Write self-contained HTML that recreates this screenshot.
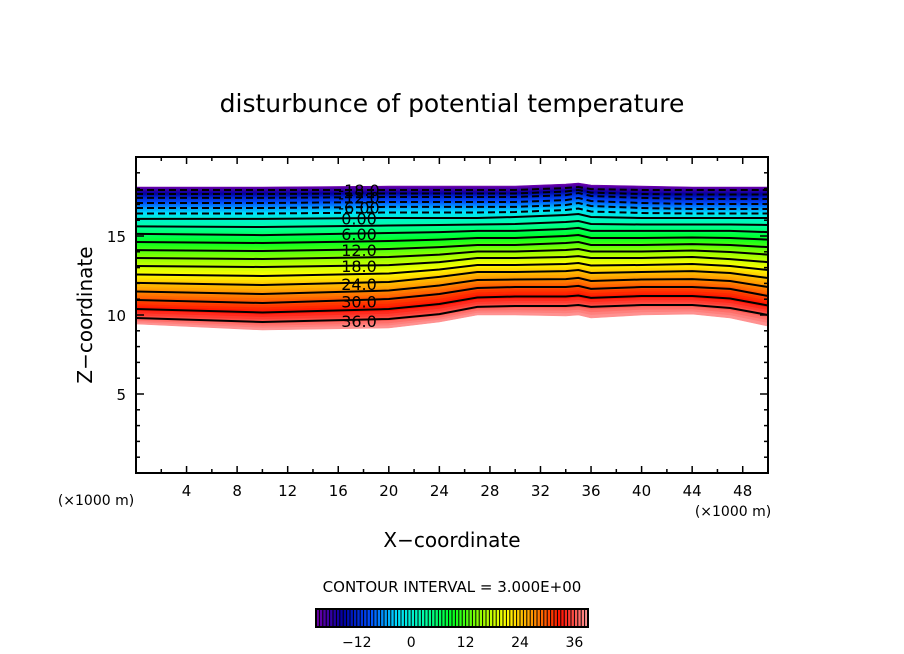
<!DOCTYPE html>
<html><head><meta charset="utf-8">
<style>
html,body{margin:0;padding:0;background:#fff;}
svg{display:block;font-family:"DejaVu Sans","Liberation Sans",sans-serif;}
</style></head>
<body>
<svg id="chart" width="904" height="654" viewBox="0 0 904 654">
  <text x="452" y="112" font-size="25" text-anchor="middle">disturbunce of potential temperature</text>
  <g id="field"></g>
  <g id="lines"></g>
  <g id="clabels"></g>
  <g id="axes"></g>
  <text x="452" y="547" font-size="20" text-anchor="middle">X−coordinate</text>
  <text transform="translate(92,315) rotate(-90)" font-size="20" text-anchor="middle">Z−coordinate</text>
  <text x="96" y="505" font-size="14" text-anchor="middle">(×1000 m)</text>
  <text x="733" y="516" font-size="14" text-anchor="middle">(×1000 m)</text>
  <text x="452" y="592" font-size="15" text-anchor="middle">CONTOUR INTERVAL = 3.000E+00</text>
  <g id="cbar"></g>
</svg>
<script>
// ---- data ----
const xNodes = [0, 10, 20, 24, 27, 30, 34, 35, 36, 40, 44, 47, 50];
const levelKeys = [-21, -18, -12, -6, 0, 6, 12, 18, 24, 30, 36, 39];
const zMinus21 = [18.10,18.10,18.16,18.16,18.16,18.16,18.29,18.35,18.23,18.16,18.10,18.10,18.10];
const zMinus18 = [17.91,17.91,17.91,17.91,17.91,17.91,18.04,18.10,17.97,17.91,17.91,17.91,17.91];
const zMinus12 = [17.41,17.41,17.47,17.47,17.47,17.47,17.59,17.72,17.53,17.41,17.34,17.34,17.34];
const zMinus6  = [16.77,16.77,16.84,16.84,16.84,16.84,16.96,17.09,16.90,16.77,16.71,16.71,16.71];
const zZero    = [16.08,16.08,16.14,16.14,16.14,16.20,16.33,16.39,16.20,16.14,16.14,16.14,16.14];
const zPlus6   = [15.13,15.06,15.19,15.25,15.32,15.32,15.44,15.51,15.32,15.32,15.32,15.32,15.25];
const zPlus12  = [14.11,14.05,14.18,14.30,14.43,14.43,14.56,14.62,14.43,14.43,14.49,14.43,14.30];
const zPlus18  = [13.10,13.04,13.16,13.35,13.61,13.61,13.67,13.73,13.61,13.61,13.67,13.54,13.35];
const zPlus24  = [12.03,11.90,12.09,12.41,12.72,12.72,12.78,12.85,12.66,12.72,12.78,12.66,12.34];
const zPlus30  = [10.95,10.76,11.01,11.33,11.71,11.77,11.77,11.84,11.65,11.77,11.77,11.65,11.20];
const zPlus36  = [9.81,9.56,9.75,10.06,10.51,10.57,10.57,10.63,10.51,10.63,10.63,10.44,10.00];
const zPlus39  = [9.43,9.05,9.18,9.56,10.00,10.00,9.94,10.00,9.81,10.00,10.06,9.81,9.30];
const labelLevels = [-18, -12, -6, 0, 6, 12, 18, 24, 30, 36];
const labelTexts = ["-18.0","-12.0","-6.00","0.00","6.00","12.0","18.0","24.0","30.0","36.0"];
const xTicks = [4, 8, 12, 16, 20, 24, 28, 32, 36, 40, 44, 48];
const yTicks = [5, 10, 15];
const cbarTicks = [-12, 0, 12, 24, 36];
const colorStops = [-21,-15,-9,-3,3,9,15,21,27,33,39];
const colorVals = ["#7000a8","#0000a0","#0050ff","#00e0ff","#00ffa8","#00ff20","#90ff00","#ffff00","#ff9000","#ff1000","#ff9a9a"];

// ---- scales ----
const X0=136, X1=768, Y0=473, Y1=157;
const sx = v => X0 + (v/50)*(X1-X0);
const sy = v => Y0 - (v/20)*(Y0-Y1);
const NS="http://www.w3.org/2000/svg";
const zRows=[zMinus21,zMinus18,zMinus12,zMinus6,zZero,zPlus6,zPlus12,zPlus18,zPlus24,zPlus30,zPlus36,zPlus39];
function zAt(level,i){
  for(let k=0;k<levelKeys.length-1;k++){
    if(level>=levelKeys[k]&&level<=levelKeys[k+1]){
      const t=(level-levelKeys[k])/(levelKeys[k+1]-levelKeys[k]);
      return zRows[k][i]+(zRows[k+1][i]-zRows[k][i])*t;
    }
  }
  return level<levelKeys[0]?zRows[0][i]:zRows[zRows.length-1][i];
}
function hex(h){return [1,3,5].map(i=>parseInt(h.substr(i,2),16));}
function color(v){
  if(v<=colorStops[0])return colorVals[0];
  for(let k=0;k<colorStops.length-1;k++){
    if(v<=colorStops[k+1]){
      const t=(v-colorStops[k])/(colorStops[k+1]-colorStops[k]);
      const a=hex(colorVals[k]),b=hex(colorVals[k+1]);
      return "rgb("+a.map((c,j)=>Math.round(c+(b[j]-c)*t)).join(",")+")";
    }
  }
  return colorVals[colorVals.length-1];
}
function linePts(level){return xNodes.map((x,i)=>sx(x).toFixed(1)+","+sy(zAt(level,i)).toFixed(1));}

// ---- fill ----
const field=document.getElementById('field');
const step=0.75;
for(let v=-21; v<39-1e-6; v+=step){
  const top=linePts(v), bot=linePts(v+step).reverse();
  const p=document.createElementNS(NS,'polygon');
  p.setAttribute('points',top.concat(bot).join(' '));
  p.setAttribute('fill',color(v+step/2));
  p.setAttribute('stroke',color(v+step/2));
  p.setAttribute('stroke-width','0.6');
  
  
  field.appendChild(p);
}
// ---- lines ----
const lines=document.getElementById('lines');
for(let v=-18; v<=36; v+=3){
  const pl=document.createElementNS(NS,'polyline');
  pl.setAttribute('points',linePts(v).join(' '));
  pl.setAttribute('fill','none');
  pl.setAttribute('stroke','#000');
  pl.setAttribute('stroke-width','2');
  if(v<0) pl.setAttribute('stroke-dasharray','7,4');
  
  
  lines.appendChild(pl);
}
// ---- labels ----
const cl=document.getElementById('clabels');
labelLevels.forEach((v,k)=>{
  const t=document.createElementNS(NS,'text');
  const z=zAt(v,1)*0.6+zAt(v,2)*0.4;
  t.setAttribute('x',359);
  t.setAttribute('y',sy(z)+6);
  t.setAttribute('font-size','16');
  t.setAttribute('text-anchor','middle');
  t.textContent=labelTexts[k];
  
  
  cl.appendChild(t);
});
// ---- axes ----
const ax=document.getElementById('axes');
function ln(x1,y1,x2,y2,w,name){
  const l=document.createElementNS(NS,'line');
  l.setAttribute('x1',x1);l.setAttribute('y1',y1);l.setAttribute('x2',x2);l.setAttribute('y2',y2);
  l.setAttribute('stroke','#000');l.setAttribute('stroke-width',w);
  
  
  ax.appendChild(l);
}
function txt(x,y,s,size,anchor,name,parent){
  const t=document.createElementNS(NS,'text');
  t.setAttribute('x',x);t.setAttribute('y',y);t.setAttribute('font-size',size);t.setAttribute('text-anchor',anchor);
  t.textContent=s;
  
  
  (parent||ax).appendChild(t);
}
const fr=document.createElementNS(NS,'rect');
fr.setAttribute('x',X0);fr.setAttribute('y',Y1);fr.setAttribute('width',X1-X0);fr.setAttribute('height',Y0-Y1);
fr.setAttribute('fill','none');fr.setAttribute('stroke','#000');fr.setAttribute('stroke-width','2');


ax.appendChild(fr);
for(let x=2;x<50;x+=2){
  const major=xTicks.includes(x), L=major?7:4;
  ln(sx(x),Y0,sx(x),Y0-L,1.5,'x-tick');
  ln(sx(x),Y1,sx(x),Y1+L,1.5,'x-tick-top');
}
xTicks.forEach(x=>txt(sx(x),496,String(x),15,'middle','x-tick-label'));
for(let y=1;y<20;y++){
  const major=yTicks.includes(y), L=major?8:4;
  ln(X0,sy(y),X0+L,sy(y),1.5,'y-tick');
  ln(X1,sy(y),X1-L,sy(y),1.5,'y-tick-right');
}
yTicks.forEach(y=>txt(126,sy(y)+6,String(y),15,'end','y-tick-label'));
// ---- colorbar ----
const cb=document.getElementById('cbar');
const C0=316,C1=588,CY=609,CH=18;
const cx=v=>C0+(v+21)/60*(C1-C0);
for(let v=-21; v<39-1e-6; v+=0.75){
  const r=document.createElementNS(NS,'rect');
  r.setAttribute('x',cx(v));r.setAttribute('y',CY);r.setAttribute('width',cx(v+0.75)-cx(v)+0.3);r.setAttribute('height',CH);
  r.setAttribute('fill',color(v+0.375));
  
  
  cb.appendChild(r);
  const l=document.createElementNS(NS,'line');
  l.setAttribute('x1',cx(v));l.setAttribute('x2',cx(v));l.setAttribute('y1',CY);l.setAttribute('y2',CY+CH);
  l.setAttribute('stroke','#000');l.setAttribute('stroke-width','1');
  
  
  cb.appendChild(l);
}
const cbf=document.createElementNS(NS,'rect');
cbf.setAttribute('x',C0);cbf.setAttribute('y',CY);cbf.setAttribute('width',C1-C0);cbf.setAttribute('height',CH);
cbf.setAttribute('fill','none');cbf.setAttribute('stroke','#000');cbf.setAttribute('stroke-width','2');


cb.appendChild(cbf);
cbarTicks.forEach(v=>txt(cx(v),647,v<0?"−"+Math.abs(v):String(v),14,'middle','colorbar-tick-label',cb));
</script>
</body></html>
